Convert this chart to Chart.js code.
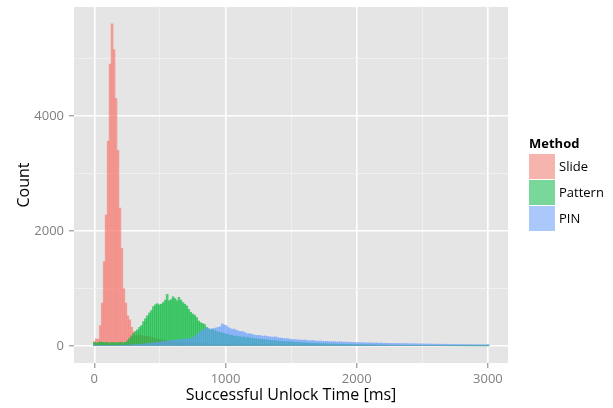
<!DOCTYPE html>
<html><head><meta charset="utf-8">
<script src="https://cdn.jsdelivr.net/npm/chart.js@4/dist/chart.umd.min.js"></script>
<style>
html,body{margin:0;padding:0;background:#fff;}
#wrap{position:relative;width:613px;height:408px;font-family:"Open Sans",sans-serif;}
canvas{position:absolute;left:0;top:0;}
#legend{position:absolute;left:0;top:0;width:613px;height:408px;pointer-events:none;}
.lt{position:absolute;left:529px;top:135px;font:bold 13px "Open Sans",sans-serif;line-height:16px;color:#000;}
.key{position:absolute;left:529px;width:26px;height:25px;}
.lab{position:absolute;left:559px;font:13px "Open Sans",sans-serif;line-height:16px;color:#000;}
</style></head><body>
<div id="wrap"><canvas id="c" width="613" height="408"></canvas><div id="legend"></div></div>
<script>
const binWidthMs = 15;
const methods = ['Slide', 'Pattern', 'PIN'];
const slideCounts = [
 80,130,120,360,750,1470,2280,3560,4900,5600,5150,4300,3400,2400,1700,1000,750,530,460,330,250,180,190,
 200,185,180,170,175,160,150,140,135,125,115,110,100,105,95,90,85,80,
 78,75,72,70,66,65,62,60,58,55,56,52,50,48,50,46,45,44,42,40,
 42,40,38,39,37,36,35,36,34,33,34,32,31,32,30,31,30,29,30,28,
 32,31,30,31,29,30,29,28,29,28,27,28,27,26,27,26,25,26,25,26,
 26,25,26,25,24,25,24,25,24,23,24,23,24,23,22,23,22,23,22,22,
 22,21,22,21,22,21,20,21,20,21,20,20,19,20,19,20,19,19,18,19,
 20,21,20,20,19,20,19,20,19,19,18,19,18,19,18,18,17,18,17,18,
 17,17,18,17,16,17,16,17,16,16,17,16,15,16,15,16,15,15,16,15,
 15,14,15,14,15,14,14,15,14,13,14,13,14,13,13,14,13,12,13,12
];
const patternCounts = [
 70,60,65,75,70,60,70,65,55,70,60,65,60,70,65,60,70,
 100,140,180,220,260,290,330,360,430,480,530,580,620,690,720,740,720,730,760,800,900,790,810,860,
 830,790,850,800,760,730,700,640,590,560,540,500,440,410,395,380,330,300,280,300,
 270,265,245,245,230,225,210,205,190,190,175,180,165,170,155,165,145,160,140,145,
 135,132,125,128,118,120,112,113,104,106,97,99,91,93,86,88,81,83,77,79,
 74,69,70,64,66,61,62,57,58,53,55,51,52,47,49,45,46,43,44,40,
 41,38,39,36,37,34,35,32,33,30,31,29,30,27,29,26,27,25,26,24,
 25,23,24,22,23,21,22,20,21,19,20,18,19,17,19,16,18,15,17,15,
 16,14,15,13,15,13,14,12,14,11,13,11,12,10,12,10,11,9,11,9,
 10,9,10,8,9,8,9,7,9,7,8,7,8,6,8,6,7,6,7,6
];
const pinCounts = [
 15,10,12,18,10,15,12,14,10,16,12,15,18,14,20,16,22,18,25,22,28,
 30,32,35,38,40,45,48,52,55,60,62,68,72,
 80,85,88,92,95,100,102,108,110,115,118,122,125,128,130,135,150,
 170,200,230,260,275,300,320,310,300,295,310,320,330,340,390,370,360,330,310,290,300,280,270,255,260,245,230,215,220,205,
 200,190,185,190,180,175,180,170,165,160,158,165,150,145,140,138,130,135,125,120,
 118,115,112,110,108,105,110,100,98,95,100,92,90,88,92,85,84,86,80,82,
 78,80,76,75,78,72,70,74,68,70,66,68,64,65,62,64,60,62,58,60,
 58,56,58,55,54,56,52,53,50,52,50,48,50,47,48,46,47,45,46,44,
 44,43,45,42,42,40,41,40,38,40,37,38,36,37,36,35,36,34,35,33,
 34,32,33,32,31,32,30,31,30,29,30,28,29,28,28,27,28,26,27,35
];
const unlockTimeMs = slideCounts.map((_, i) => i * binWidthMs);
const xGridTicks = [0, 500, 1000, 1500, 2000, 2500, 3000];
const xLabelTicks = [0, 1000, 2000, 3000];
const yGridTicks = [0, 1000, 2000, 3000, 4000, 5000];
const yLabelTicks = [0, 2000, 4000];

const barFill = ['rgba(248,118,109,0.65)', 'rgba(0,186,56,0.65)', 'rgba(97,156,255,0.6)'];
const keyFill = ['#F6B4AF', '#7AD79A', '#AAC8F9'];
const drawOrder = [2, 1, 0];
const seriesCounts = [slideCounts, patternCounts, pinCounts];

const panelBg = {
  id: 'panelBg',
  beforeDraw(chart) {
    const {ctx, chartArea: a} = chart;
    ctx.save();
    ctx.fillStyle = '#fff';
    ctx.fillRect(0, 0, chart.width, chart.height);
    ctx.fillStyle = '#E5E5E5';
    ctx.fillRect(a.left, a.top, a.right - a.left, a.bottom - a.top);
    ctx.restore();
  }
};

const tickFont = {family: 'Open Sans', size: 13};
const titleFont = {family: 'Open Sans', size: 16};

function gridOpts(labelTicks) {
  const isMajor = c => c.tick && labelTicks.includes(c.tick.value);
  return {
    offset: false,
    color: c => isMajor(c) ? '#FFFFFF' : '#F2F2F2',
    lineWidth: c => isMajor(c) ? 1.6 : 0.8,
    tickColor: c => isMajor(c) ? '#7F7F7F' : 'rgba(0,0,0,0)',
    tickLength: 5,
    tickWidth: 1,
    drawTicks: true,
    drawOnChartArea: true
  };
}

function zeroPad(s) { s.paddingTop = 0; s.paddingBottom = 0; s.paddingLeft = 0; s.paddingRight = 0; }

new Chart(document.getElementById('c'), {
  type: 'bar',
  data: {
    datasets: methods.map((m, k) => ({
      label: m,
      data: unlockTimeMs.map((t, i) => ({x: t, y: seriesCounts[k][i]})),
      backgroundColor: barFill[k],
      borderWidth: 0,
      grouped: false,
      barPercentage: 1,
      categoryPercentage: 1,
      order: drawOrder[k]
    }))
  },
  options: {
    responsive: false,
    animation: false,
    devicePixelRatio: 1,
    layout: {padding: {left: 0, right: 105, top: 7, bottom: 0}},
    plugins: {legend: {display: false}, tooltip: {enabled: false}},
    scales: {
      x: {
        type: 'linear', min: -155, max: 3153, offset: false,
        afterBuildTicks(s) { s.ticks = xGridTicks.map(v => ({value: v})); },
        afterFit(s) { s.height = 45; zeroPad(s); },
        grid: gridOpts(xLabelTicks),
        border: {display: false},
        ticks: {autoSkip: false, maxRotation: 0, padding: 3, color: '#7F7F7F', font: tickFont,
          callback: v => xLabelTicks.includes(v) ? String(v) : ''},
        title: {display: true, text: 'Successful Unlock Time [ms]', color: '#000', font: titleFont, padding: {top: 0, bottom: 3}}
      },
      y: {
        type: 'linear', min: -290, max: 5890,
        afterBuildTicks(s) { s.ticks = yGridTicks.map(v => ({value: v})); },
        afterFit(s) { s.width = 74; zeroPad(s); },
        grid: gridOpts(yLabelTicks),
        border: {display: false},
        ticks: {autoSkip: false, padding: 5, color: '#7F7F7F', font: tickFont,
          callback: v => yLabelTicks.includes(v) ? String(v) : ''},
        title: {display: true, text: 'Count', color: '#000', font: titleFont, padding: {top: 15, bottom: 0}}
      }
    }
  },
  plugins: [panelBg]
});

const legend = document.getElementById('legend');
const t = document.createElement('div');
t.className = 'lt'; t.textContent = 'Method';
legend.appendChild(t);
methods.forEach((m, k) => {
  const top = 154 + k * 26;
  const key = document.createElement('div');
  key.className = 'key'; key.style.top = top + 'px'; key.style.background = keyFill[k];
  legend.appendChild(key);
  const lab = document.createElement('div');
  lab.className = 'lab'; lab.style.top = (top + 4) + 'px'; lab.textContent = m;
  legend.appendChild(lab);
});
</script>
</body></html>
